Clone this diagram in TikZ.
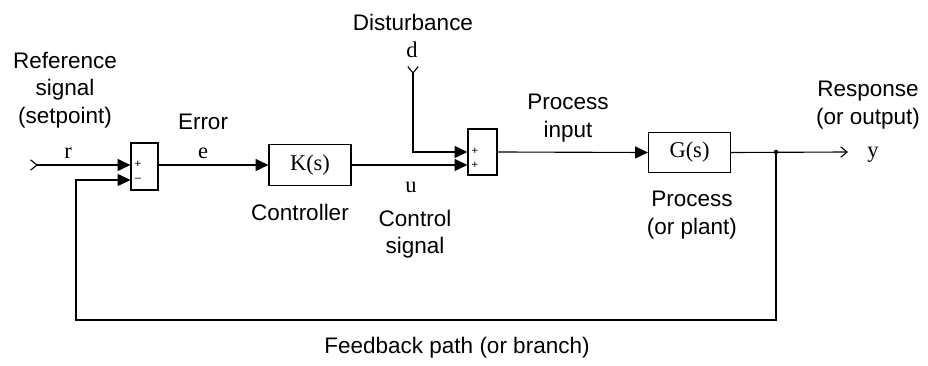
\documentclass[tikz,border=0pt]{standalone}
\usepackage{fontspec}
\setmainfont{Liberation Serif}
\setsansfont{Liberation Sans}
\usetikzlibrary{arrows.meta,positioning}

\begin{document}
\begin{tikzpicture}[x=0.025cm, y=-0.025cm,
  font=\sffamily\fontsize{16}{19.5}\selectfont,
  tri/.tip={Triangle[length=0.32cm, width=0.3cm]},
  barb/.tip={Straight Barb[length=0.16cm, width=0.26cm]},
  blk/.style={draw, line width=0.8pt, minimum width=2.05cm, minimum height=1.02cm,
              inner sep=0pt, font=\rmfamily\fontsize{16}{19}\selectfont},
  sumbox/.style={draw, line width=0.8pt, inner sep=0pt},
  lbl/.style={align=center, inner sep=0pt},
  sym/.style={inner sep=0pt, font=\rmfamily\fontsize{16}{19}\selectfont},
  sgn/.style={inner sep=0pt, font=\sffamily\fontsize{8}{9}\selectfont},
  sig/.style={line width=0.8pt},
  arr/.style={sig, -tri},
  inarr/.style={sig, {barb[reversed]}-tri}]
\useasboundingbox (0,0) rectangle (928,366);
% --- blocks ---
\node[sumbox, minimum width=0.675cm, minimum height=1.175cm] (sum1) at (144.5,166.5) {};
\node[blk] (ctrl) at (310,165) {K(s)};
\node[sumbox, minimum width=0.725cm, minimum height=1.15cm] (sum2) at (482.5,152) {};
\node[blk] (plant) at (689.5,152.5) {G(s)};
% --- signs ---
\node[sgn] (s1plus) at (138,164) {+};
\node[sgn] (s1minus) at (138,179.5) {--};
\node[sgn] (s2plus1) at (475,151) {+};
\node[sgn] (s2plus2) at (475,165) {+};
% --- ends and ports ---
\coordinate (rin) at (30,165);
\coordinate (din) at (413,66);
\coordinate (yout) at (848,152);
\coordinate (tap) at (776,152);
\coordinate (fbk) at (76,320);
\coordinate (s1p) at (sum1.west |- 0,165);
\coordinate (s1m) at (sum1.west |- 0,180);
\coordinate (s2d) at (sum2.west |- 0,152);
\coordinate (s2u) at (sum2.west |- 0,165);
% --- connectors ---
\draw[inarr] (rin) -- (s1p);
\draw[arr] (sum1.east |- ctrl.west) -- (ctrl.west);
\draw[arr] (ctrl.east) -- (s2u);
\draw[inarr] (din) |- (s2d);
\draw[arr] (sum2.east) -- (plant.west);
\draw[sig, -barb] (plant.east) -- (yout);
\fill (tap) circle (1.6pt);
\draw[arr] (tap) -- (tap |- fbk) -- (fbk) -- (fbk |- s1m) -- (s1m);
% --- labels ---
\node[lbl] (reflbl) at (65,90) {Reference\\signal\\(setpoint)};
\node[sym] (rlbl) at (68,153) {r};
\node[lbl] (errlbl) at (203,122) {Error};
\node[sym] (elbl) at (203,153) {e};
\node[lbl] (ctrllbl) at (300,212) {Controller};
\node[lbl] (distlbl) at (413,22) {Disturbance};
\node[sym] (dlbl) at (412,50) {d};
\node[sym] (ulbl) at (411,187) {u};
\node[lbl] (csiglbl) at (415,234) {Control\\signal};
\node[lbl] (pinlbl) at (568,118) {Process\\input};
\node[lbl] (plantlbl) at (692,215) {Process\\(or plant)};
\node[lbl] (resplbl) at (868,105) {Response\\(or output)};
\node[sym] (ylbl) at (873,155) {y};
\node[lbl] (fbklbl) at (457,348) {Feedback path (or branch)};
\end{tikzpicture}
\end{document}
